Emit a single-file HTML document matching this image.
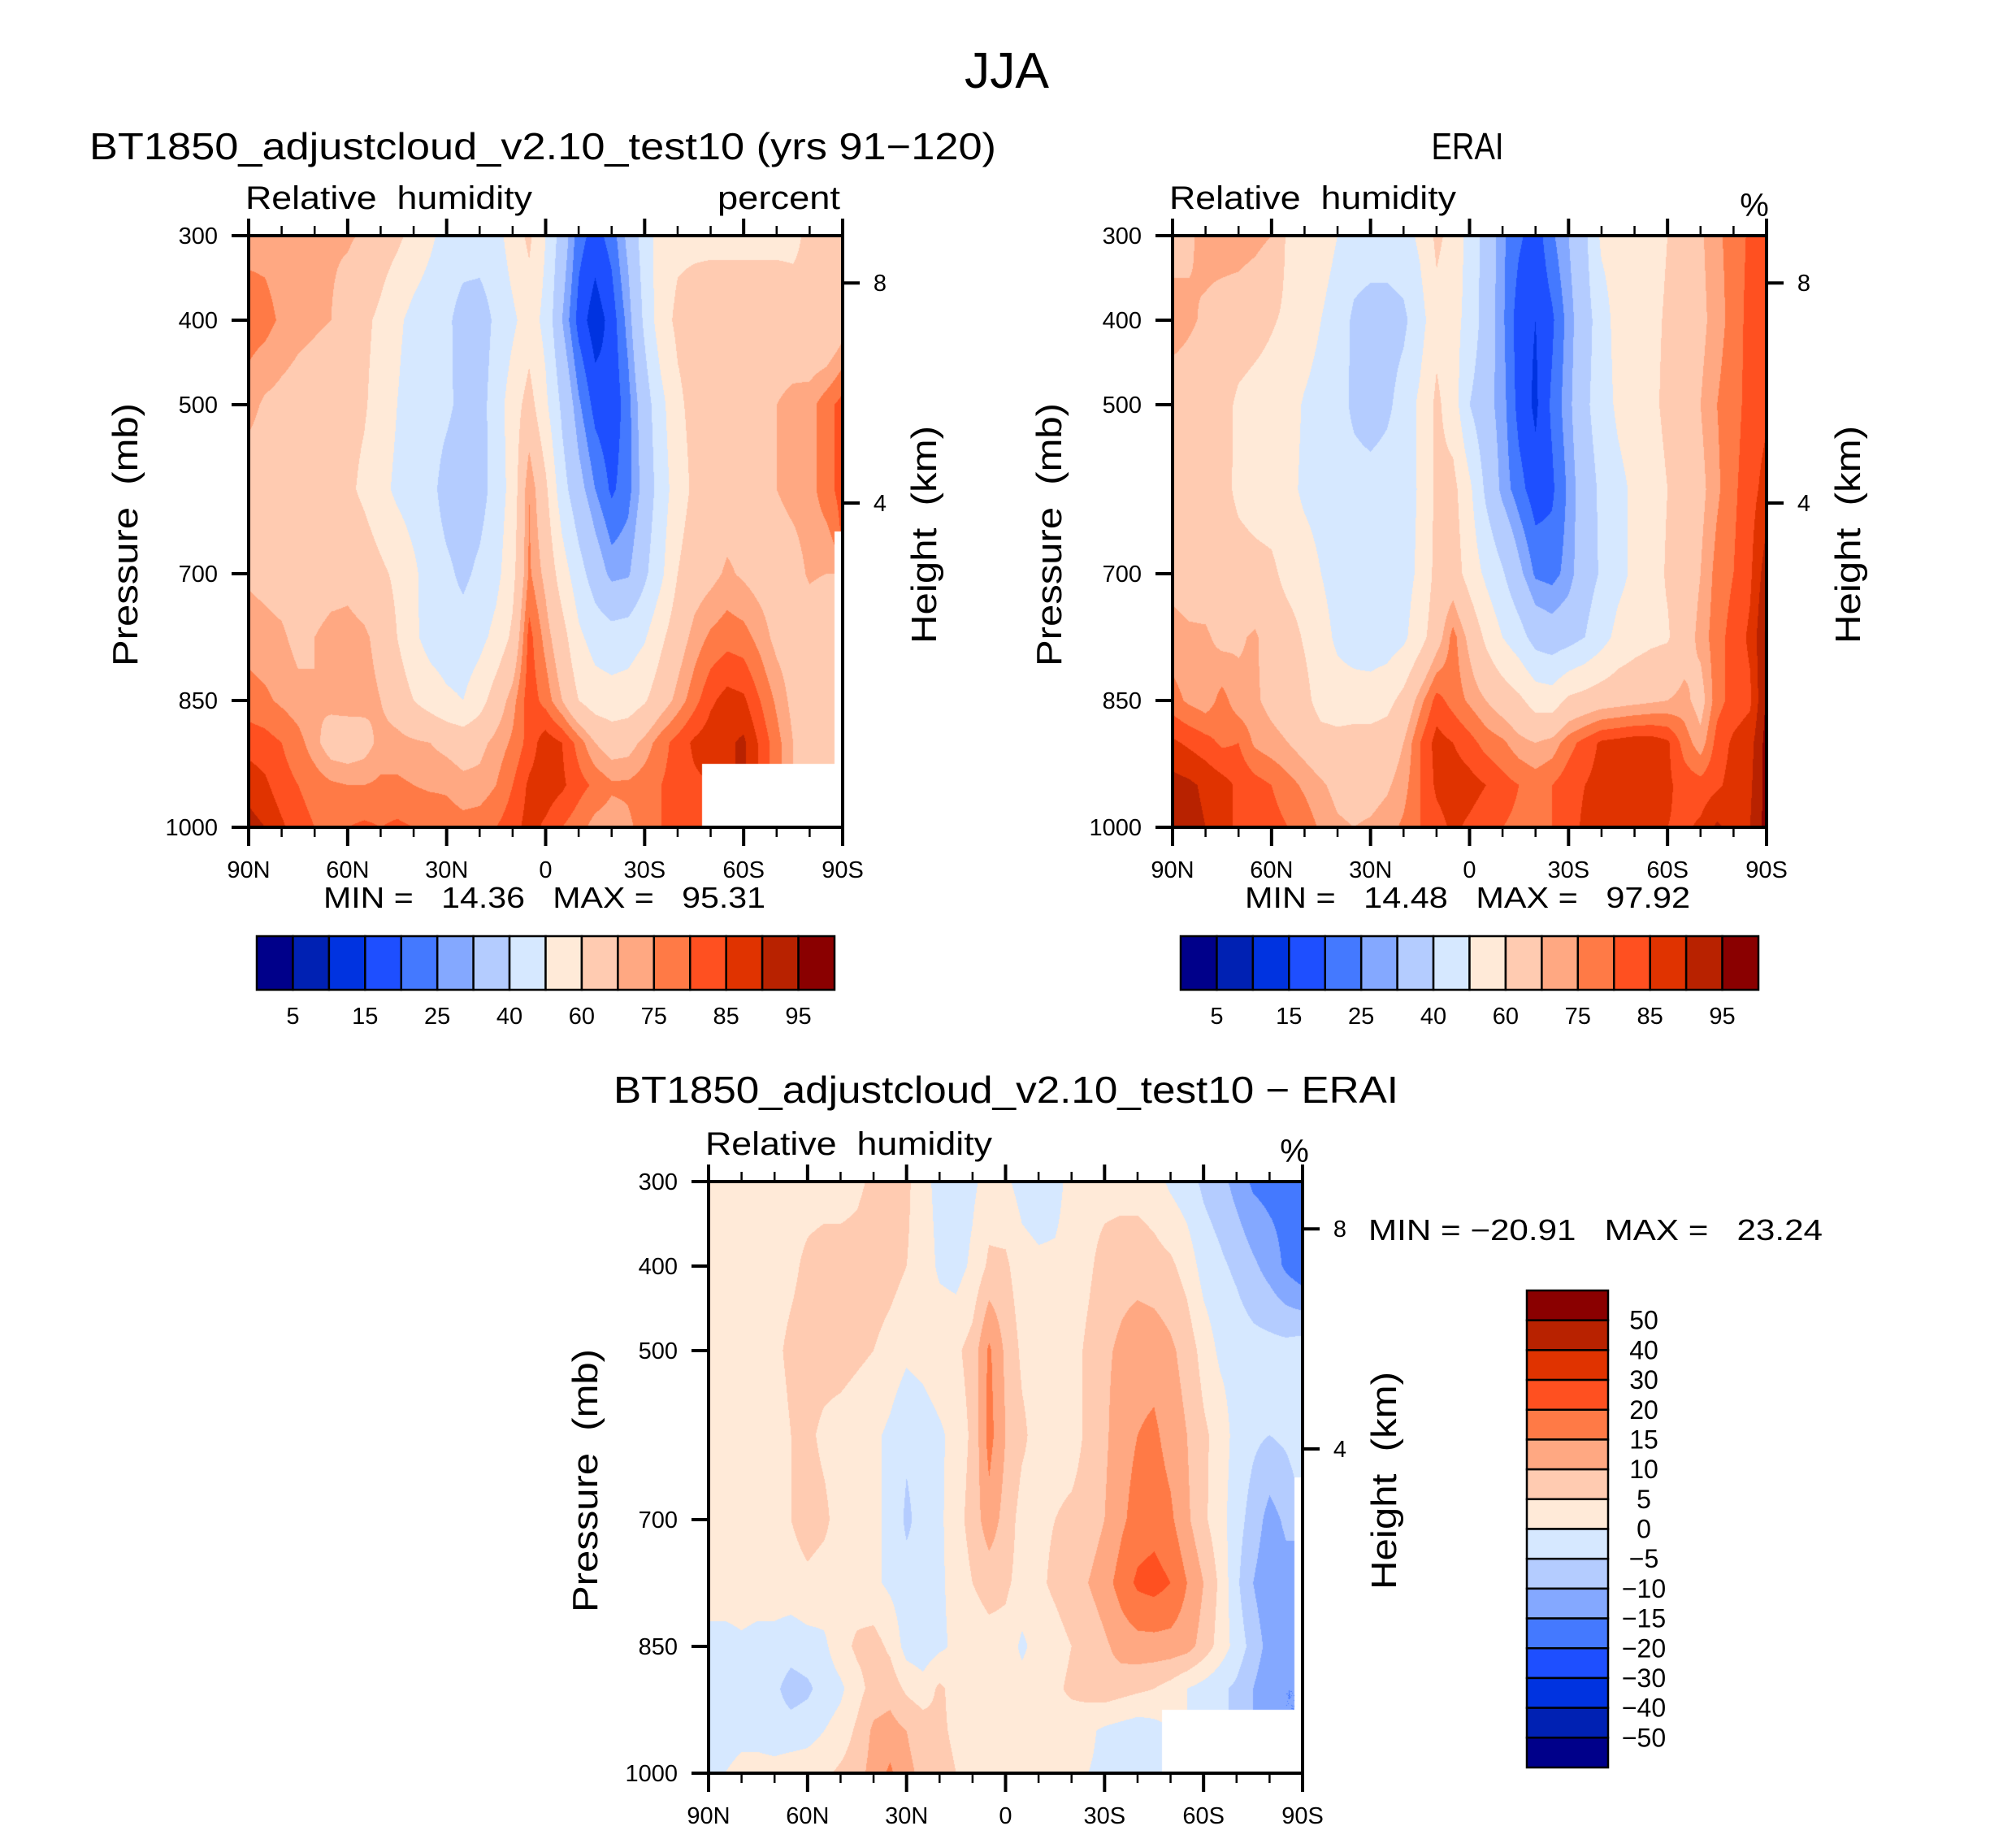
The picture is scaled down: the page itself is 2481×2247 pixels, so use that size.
<!DOCTYPE html>
<html><head><meta charset="utf-8">
<style>
html,body{margin:0;padding:0;background:#fff;}
#wrap{position:relative;width:2481px;height:2247px;overflow:hidden;background:#fff;}
canvas{position:absolute;}
svg{position:absolute;left:0;top:0;}
text{font-family:"Liberation Sans",sans-serif;fill:#000;white-space:pre;}
</style></head>
<body>
<div id="wrap">
<canvas id="c1" width="731" height="728" style="left:306px;top:290px"></canvas>
<canvas id="c2" width="731" height="728" style="left:1443px;top:290px"></canvas>
<canvas id="c3" width="731" height="728" style="left:872px;top:1454px"></canvas>
<svg id="ov" width="2481" height="2247" viewBox="0 0 2481 2247"></svg>
</div>
<script>
// ---------- data ----------
const lats = [90,85,80,75,70,65,60,55,50,45,40,35,30,25,20,15,10,5,0,-5,-10,-15,-20,-25,-30,-35,-40,-45,-50,-55,-60,-65,-70,-75,-80,-85,-90];
const pressures = [300,400,500,600,700,775,850,900,950,1000];
const N = NaN;
// model (BT1850) relative humidity, rows by pressure, cols 90N..90S
const m300 = [73,73,72,72,72,71,71,69,65,62,57,52,46,45,45,46,55,62,50, 35,22,18,22,32,45,55,58,58,58,58,58,58,58,58,62,65,66];
const m400 = [78,77,74,72,71,70,66,62,58,52,47,44,42,36,35,42,48,55,47, 30,18,12,17,27,42,56,62,64,65,65,65,65,65,64,62,60,66];
const m500 = [72,69,68,67,66,65,63,61,56,50,45,44,42,37,36,45,55,64,52, 38,26,18,16,23,35,47,58,63,65,66,67,68,70,72,73,78,82];
const m600 = [66,66,66,65,64,63,62,58,53,48,45,43,36,34,36,44,54,75,62, 44,33,25,19,23,33,45,55,62,65,66,67,68,70,72,73,78,82];
const m700 = [69,68,67,66,66,67,68,66,62,58,52,45,42,38,42,47,57,76,68, 55,44,35,28,29,38,48,60,66,68,71,69,67,66,67,71,70,N];
const m775 = [73,72,71,68,70,72,72,71,68,60,52,46,44,44,47,53,62,82,73, 64,52,46,44,45,49,58,66,72,76,78,77,73,68,66,65,62,N];
const m850 = [77,76,74,72,70,72,73,72,70,66,60,56,52,50,56,65,73,83,78, 70,60,55,54,55,59,66,72,78,84,87,86,80,74,68,64,63,N];
const m900 = [83,82,80,77,72,66,65,67,72,72,71,70,68,66,68,72,76,82,88, 85,78,70,66,67,72,78,82,86,88,89,91,84,77,70,66,64,N];
const m950 = [88,86,82,80,78,76,75,75,76,76,75,74,74,72,72,75,80,86,88, 86,82,79,76,76,78,80,82,84,N,N,N,N,N,N,N,N,N];
const m1000= [92,90,86,82,80,80,80,81,80,81,80,80,78,77,78,80,83,87,84, 80,77,73,72,74,77,80,82,84,N,N,N,N,N,N,N,N,N];
// ERAI relative humidity
const e300 = [67,69,72,73,73,72,70,58,56,54,50,46,45,45,46,52,62,57,46, 36,26,21,17,24,30,38,52,55,56,57,60,65,69,74,77,81,84];
const e400 = [73,71,69,67,66,64,61,58,55,50,46,38,36,36,38,46,57,53,47, 35,26,17,15,19,27,36,45,54,56,58,61,64,68,73,77,82,84];
const e500 = [66,66,65,64,58,56,55,54,49,46,44,38,35,38,44,52,62,55,40, 33,27,18,14,21,28,38,45,52,56,58,62,66,70,75,78,82,84];
const e600 = [66,66,65,63,58,56,55,53,48,46,45,44,44,45,46,51,62,63,52, 38,28,22,17,19,26,35,42,47,52,56,60,65,68,74,79,83,87];
const e700 = [68,67,66,65,64,63,62,57,55,50,46,45,45,45,46,52,63,65,56, 48,41,32,24,23,27,36,41,47,52,56,61,65,70,77,80,84,93];
const e775 = [72,71,71,68,69,71,66,64,59,54,48,45,44,45,48,56,66,77,68, 58,50,44,36,34,36,40,46,53,56,58,59,66,72,78,82,86,96];
const e850 = [77,74,72,77,72,71,68,66,63,56,55,55,55,57,63,73,82,78,74, 70,66,62,56,55,62,64,66,67,68,69,70,72,67,78,82,84,96];
const e900 = [86,84,82,79,80,74,72,70,67,64,63,64,64,65,70,80,87,85,82, 78,76,72,70,72,78,82,86,87,88,88,86,78,72,82,86,88,97];
const e950 = [92,91,89,87,84,82,80,77,74,71,68,67,67,69,73,80,86,88,87, 85,82,80,78,80,83,85,87,88,88,88,86,83,82,84,87,89,97];
const e1000= [93,92,90,87,84,82,82,80,78,74,71,70,71,73,76,80,83,86,84, 82,80,79,78,80,83,86,87,87,86,86,85,84,86,91,88,90,97];
// difference (model - ERAI)
const d300 = [3,3,3,3,3,3,3,3,3,4,6,7,6,2,-2,-3,-1,2,1, -2,-3,-2,2,3,3,3,3,2,-1,-3,-6,-8,-12,-16,-17,-17,-17];
const d400 = [3,3,3,3,3,4,6,7,7,7,8,7,5,3,-1,-2,1,6,6, 2,1,1,2,4,7,8,8,7,6,3,-2,-4,-6,-9,-12,-16,-19];
const d500 = [3,3,3,3,4,6,7,7,7,6,5,3,1,2,4,4,7,16,9, 4,3,3,3,6,9,11,13,13,11,8,3,-1,-2,-3,-3,-3,-2];
const d600 = [3,3,3,3,3,5,6,4,3,2,1,-1,-4,-3,-1,2,6,17,10, 6,3,3,3,6,9,13,15,16,13,10,6,3,-2,-4,-5,-4,-2];
const d700 = [3,3,3,3,3,5,7,6,3,2,1,-1,-6,-3,-1,3,7,13,8, 3,4,5,6,7,10,14,17,18,16,11,6,2,-3,-7,-12,-9,N];
const d775 = [3,3,3,3,3,3,4,3,3,2,1,-1,-3,-3,-1,2,5,7,6, 3,4,6,8,10,13,17,21,22,20,15,10,4,-4,-10,-14,-12,N];
const d850 = [-2,-2,-1,-2,-2,-3,-2,-1,3,6,7,4,-2,-3,-1,1,2,3,3, -1,2,3,5,6,9,12,13,13,13,12,8,3,-2,-7,-12,-14,N];
const d900 = [-2,-3,-3,-3,-4,-7,-6,-3,-1,3,7,8,4,2,6,3,2,2,2, 2,3,4,6,7,8,7,6,5,3,0,-2,-4,-6,-10,-14,-15,N];
const d950 = [-2,-3,-2,-2,-3,-3,-2,0,2,6,11,12,10,8,6,4,2,2,3, 4,5,3,2,1,-1,-2,-3,-2,N,N,N,N,N,N,N,N,N];
const d1000= [-1,0,2,2,2,3,3,4,6,8,12,16,11,9,7,5,3,3,3, 3,3,2,1,0,-1,-2,-2,-2,N,N,N,N,N,N,N,N,N];
// contour levels and colorbar labels
const rhLevels = [5,10,15,20,25,30,40,50,60,70,75,80,85,90,95];
const rhLabels = ["5","15","25","40","60","75","85","95"];
const diffLevels = [-50,-40,-30,-20,-15,-10,-5,0,5,10,15,20,30,40,50];
const diffLabels = ["50","40","30","20","15","10","5","0","\u22125","\u221210","\u221215","\u221220","\u221230","\u221240","\u221250"];
const xTickLabels = ["90N","60N","30N","0","30S","60S","90S"];
const pTicks = [300,400,500,700,850,1000];
const kmTicks = [8,4];
const palette = ["#00008a","#0021b3","#0033e0","#1e4fff","#4479ff","#84a8ff","#b4ccff","#d6e8ff",
                 "#ffead8","#ffcbb1","#ffa882","#ff7a46","#ff5020","#e03300","#b82200","#8a0000"];

const modelGrid = [m300,m400,m500,m600,m700,m775,m850,m900,m950,m1000];
const eraiGrid  = [e300,e400,e500,e600,e700,e775,e850,e900,e950,e1000];
const diffGrid  = [d300,d400,d500,d600,d700,d775,d850,d900,d950,d1000];

// ---------- geometry ----------
const W = 731, H = 728;
const P1 = {x0:306, y0:290}, P2 = {x0:1443, y0:290}, P3 = {x0:872, y0:1454};
function xScale(P, lat){ return P.x0 + (90-lat)/180*W; }
function yScale(P, p){ return P.y0 + (p-300)/700*H; }
function kmToP(z){ return 1013.25*Math.pow(1-2.25577e-5*z*1000,5.25588); }

function hexRGB(h){ return [parseInt(h.substr(1,2),16),parseInt(h.substr(3,2),16),parseInt(h.substr(5,2),16)]; }
const rgbPal = palette.map(hexRGB);

function levelIndex(v, levels){ let k=0; for(const l of levels){ if(v>=l) k++; } return k; }

function sample(grid, lat, p){
  let fi = (90-lat)/5; fi = Math.max(0, Math.min(lats.length-1-1e-9, fi));
  let j = 0; while(j < pressures.length-2 && p > pressures[j+1]) j++;
  let fj = (p - pressures[j])/(pressures[j+1]-pressures[j]); fj = Math.max(0,Math.min(1,fj));
  const i = Math.floor(fi), ti = fi - i;
  const ni = ti<0.5 ? i : i+1, nj = fj<0.5 ? j : j+1;
  if (isNaN(grid[nj][ni])) return NaN;
  const corners = [[j,i,(1-fj)*(1-ti)],[j,i+1,(1-fj)*ti],[j+1,i,fj*(1-ti)],[j+1,i+1,fj*ti]];
  let s=0, ws=0;
  for(const c of corners){ const v = grid[c[0]][c[1]]; if(!isNaN(v)){ s+=v*c[2]; ws+=c[2]; } }
  return ws>0 ? s/ws : NaN;
}

function drawField(id, grid, levels){
  const cv = document.getElementById(id), ctx = cv.getContext('2d');
  const img = ctx.createImageData(W,H), d = img.data;
  for(let py=0; py<H; py++){
    const p = 300 + (py+0.5)/H*700;
    for(let px=0; px<W; px++){
      const lat = 90 - (px+0.5)/W*180;
      const v = sample(grid, lat, p);
      const o = (py*W+px)*4;
      if(isNaN(v)){ d[o]=255; d[o+1]=255; d[o+2]=255; d[o+3]=255; continue; }
      const c = rgbPal[levelIndex(v, levels)];
      d[o]=c[0]; d[o+1]=c[1]; d[o+2]=c[2]; d[o+3]=255;
    }
  }
  ctx.putImageData(img,0,0);
}
drawField('c1', modelGrid, rhLevels);
drawField('c2', eraiGrid, rhLevels);
drawField('c3', diffGrid, diffLevels);

// ---------- overlay ----------
const NS = "http://www.w3.org/2000/svg";
const svg = document.getElementById('ov');
function mk(tag, attrs, parent){
  const e = document.createElementNS(NS, tag);
  for(const k in attrs) e.setAttribute(k, attrs[k]);
  (parent||svg).appendChild(e); return e;
}
function txt(str, x, y, size, anchor, name, len, parent){
  const t = mk('text', {x:x, y:y, 'font-size':size, 'text-anchor':anchor||'start'}, parent);
  
  
  if(len){ t.setAttribute('textLength', len); t.setAttribute('lengthAdjust','spacingAndGlyphs'); }
  t.textContent = str; return t;
}
function line(x1,y1,x2,y2,w,name,parent){
  const l = mk('line',{x1:x1,y1:y1,x2:x2,y2:y2,stroke:'#000','stroke-width':w},parent);
  
  
  return l;
}

function axes(P, label){
  const g = mk('g',{});
  
  
  const r = mk('rect',{x:P.x0,y:P.y0,width:W,height:H,fill:'none',stroke:'#000','stroke-width':4},g);
  
  
  for(let lat=90; lat>=-90; lat-=10){
    const x = xScale(P, lat), major = (lat%30===0);
    line(x, P.y0+H, x, P.y0+H+(major?23:12), major?4:2.5, label+'-x-tick', g);
    line(x, P.y0, x, P.y0-(major?21:12), major?4:2.5, label+'-x-top-tick', g);
  }
  xTickLabels.forEach((s,k)=>{
    const x = xScale(P, 90-30*k);
    txt(s, x, P.y0+H+62, 29, 'middle', label+'-x-tick-label', null, g);
  });
  pTicks.forEach(p=>{
    const y = yScale(P, p);
    line(P.x0-21, y, P.x0, y, 4, label+'-y-tick', g);
    txt(String(p), P.x0-38, y+10, 29, 'end', label+'-y-tick-label', null, g);
  });
  kmTicks.forEach(z=>{
    const y = yScale(P, kmToP(z));
    line(P.x0+W, y, P.x0+W+21, y, 4, label+'-height-tick', g);
    txt(String(z), P.x0+W+46, y+10, 29, 'middle', label+'-height-tick-label', null, g);
  });
  const cy = P.y0 + H/2 + 4;
  const px = P.x0-152, hx = P.x0+W+100;
  const t1 = txt('Pressure  (mb)', 0, 0, 44, 'middle', label+'-y-axis-title', 324, g);
  t1.setAttribute('transform','translate('+(px+15)+','+cy+') rotate(-90)');
  const t2 = txt('Height  (km)', 0, 0, 44, 'middle', label+'-right-axis-title', 268, g);
  t2.setAttribute('transform','translate('+(hx+15)+','+cy+') rotate(-90)');
}
axes(P1,'model'); axes(P2,'erai'); axes(P3,'diff');

function hbar(x0, y0, w, h, name){
  const g = mk('g',{});
  
  
  const bw = w/palette.length;
  palette.forEach((c,k)=>{
    const r = mk('rect',{x:x0+k*bw,y:y0,width:bw,height:h,fill:c,stroke:'#000','stroke-width':2.5},g);
    
    
  });
  rhLabels.forEach((s,k)=>{
    txt(s, x0+(2*k+1)*bw, y0+h+42, 29, 'middle', name+'-label', null, g);
  });
}
hbar(316, 1152, 711, 66, 'model-colorbar');
hbar(1453, 1152, 711, 66, 'erai-colorbar');

(function vbar(){
  const x0=1879, y0=1588, w=100, h=587;
  const g = mk('g',{});
  
  
  const bh = h/palette.length;
  for(let k=0;k<palette.length;k++){
    const r = mk('rect',{x:x0,y:y0+k*bh,width:w,height:bh,fill:palette[palette.length-1-k],stroke:'#000','stroke-width':2.5},g);
    
    
  }
  diffLabels.forEach((s,k)=>{
    txt(s, 2023, y0+(k+1)*bh+11, 32, 'middle', 'diff-colorbar-label', null, g);
  });
})();

// titles and annotations
txt('JJA', 1239, 108, 62, 'middle', 'figure-title', 104);
txt('BT1850_adjustcloud_v2.10_test10 (yrs 91\u2212120)', 110, 196, 46, 'start', 'model-panel-title', 1116);
txt('ERAI', 1806, 196, 46, 'middle', 'erai-panel-title', 89);
txt('Relative  humidity', 302, 257, 40, 'start', 'model-variable-label', 353);
txt('percent', 1034, 257, 40, 'end', 'model-units-label', 151);
txt('Relative  humidity', 1439, 257, 40, 'start', 'erai-variable-label', 353);
txt('%', 2159, 266, 40, 'middle', 'erai-units-label');
txt('MIN =   14.36   MAX =   95.31', 398, 1117, 36, 'start', 'model-min-max', 544);
txt('MIN =   14.48   MAX =   97.92', 1532, 1117, 36, 'start', 'erai-min-max', 548);
txt('BT1850_adjustcloud_v2.10_test10 \u2212 ERAI', 755, 1357, 46, 'start', 'diff-panel-title', 966);
txt('Relative  humidity', 868, 1421, 40, 'start', 'diff-variable-label', 353);
txt('%', 1593, 1430, 40, 'middle', 'diff-units-label');
txt('MIN = \u221220.91   MAX =   23.24', 1684, 1526, 36, 'start', 'diff-min-max', 559);
</script>
</body></html>
